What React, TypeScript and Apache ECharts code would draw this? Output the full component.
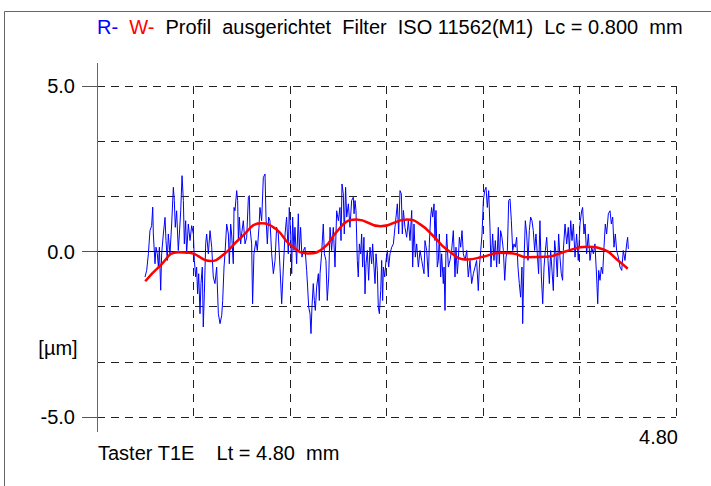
import React, { useEffect, useRef } from "react";
import * as echarts from "echarts";

// R-profile (roughness): positions in mm and heights in µm
const roughX: number[] = [
  0.398, 0.412, 0.426, 0.439, 0.453, 0.462, 0.467, 0.481, 0.489, 0.5, 0.509, 0.517, 0.528, 0.536, 0.55, 0.564, 0.572, 0.583, 0.591, 0.605,
  0.619, 0.633, 0.641, 0.649, 0.66, 0.674, 0.683, 0.694, 0.705, 0.716, 0.724, 0.735, 0.743, 0.757, 0.771, 0.785, 0.799, 0.807, 0.818, 0.826,
  0.834, 0.843, 0.854, 0.862, 0.873, 0.881, 0.89, 0.901, 0.909, 0.923, 0.937,
  0.951, 0.964, 0.978, 0.992, 1.006, 1.02, 1.034, 1.042, 1.053, 1.061, 1.075, 1.089, 1.097, 1.108, 1.116, 1.13, 1.136, 1.144, 1.158, 1.166,
  1.172, 1.18, 1.191, 1.199, 1.213, 1.227, 1.241, 1.255, 1.263, 1.268, 1.282, 1.29, 1.301, 1.318, 1.329, 1.343, 1.351, 1.365, 1.379, 1.393,
  1.401, 1.412, 1.423, 1.434, 1.448, 1.462, 1.476, 1.489, 1.503, 1.517,
  1.531, 1.545, 1.559, 1.572, 1.586, 1.594, 1.606, 1.614, 1.622, 1.633, 1.641, 1.655, 1.669, 1.677, 1.688, 1.699, 1.711, 1.724, 1.738, 1.746,
  1.755, 1.766, 1.774, 1.782, 1.793, 1.802, 1.81, 1.821, 1.835, 1.843, 1.849, 1.862, 1.876, 1.885, 1.898, 1.909, 1.921, 1.932, 1.945, 1.959,
  1.973, 1.987, 2.001, 2.014, 2.023, 2.031, 2.042, 2.05, 2.061, 2.07, 2.084, 2.097,
  2.111, 2.125, 2.131, 2.139, 2.147, 2.158, 2.166, 2.175, 2.186, 2.194, 2.202, 2.213, 2.222, 2.23, 2.241, 2.252, 2.263, 2.277, 2.285, 2.296,
  2.305, 2.313, 2.324, 2.332, 2.341, 2.352, 2.36, 2.368, 2.374, 2.385, 2.396, 2.407, 2.418, 2.429, 2.443, 2.457, 2.47, 2.479, 2.49, 2.501,
  2.512, 2.523, 2.531, 2.54, 2.553, 2.567, 2.581, 2.595, 2.609, 2.617, 2.628, 2.639, 2.65, 2.664, 2.678,
  2.692, 2.711, 2.719, 2.733, 2.747, 2.755, 2.766, 2.774, 2.783, 2.794, 2.802, 2.81, 2.821, 2.83, 2.838, 2.849, 2.857, 2.871, 2.877, 2.885,
  2.893, 2.899, 2.913, 2.926, 2.94, 2.954, 2.968, 2.976, 2.987, 2.995, 3.004, 3.015, 3.026, 3.037, 3.051, 3.065, 3.078, 3.092, 3.106, 3.12,
  3.134, 3.147, 3.161, 3.17, 3.181, 3.192, 3.203, 3.214, 3.225, 3.236, 3.247, 3.258,
  3.266, 3.28, 3.291, 3.302, 3.313, 3.327, 3.335, 3.346, 3.357, 3.369, 3.38, 3.391, 3.402, 3.413, 3.424, 3.435, 3.446, 3.457, 3.468, 3.479,
  3.49, 3.501, 3.512, 3.523, 3.529, 3.54, 3.551, 3.562, 3.573, 3.584, 3.595, 3.606, 3.617, 3.628, 3.639, 3.65, 3.661, 3.672, 3.684, 3.695,
  3.706, 3.717, 3.728, 3.739, 3.75, 3.761, 3.772, 3.783, 3.794, 3.805, 3.816, 3.827, 3.838,
  3.849, 3.86, 3.866, 3.88, 3.894, 3.907, 3.916, 3.927, 3.938, 3.949, 3.963, 3.976, 3.99, 4.004, 4.018, 4.026, 4.037, 4.046, 4.059, 4.073,
  4.087, 4.101, 4.115, 4.128, 4.142, 4.151, 4.159, 4.17, 4.181, 4.192, 4.203, 4.214, 4.225, 4.239, 4.253, 4.264, 4.275, 4.286, 4.297, 4.308,
  4.322, 4.336, 4.35, 4.363, 4.377, 4.391, 4.399, 4.405,
];
const roughY: number[] = [
  -0.77, -0.57, -0.07, 0.63, 0.78, 1.34, 0.53, -0.37, 0.13, -0.07, -0.47, 0.13, -1.17, -0.07, 0.53, 1.03, 0.33, -0.27, 0.53, -0.07,
  0.83, 1.94, 1.54, 0.73, 1.23, 0.03, 0.53, 1.23, 2.29, 1.54, 0.23, 0.93, -0.07, 0.83, 0.33, 0.78, 0.53, -0.27, -0.77, -0.47,
  -1.28, -0.67, -1.88, -0.97, -0.47, -2.28, -1.28, 0.23, 0.53, -0.07, 0.63,
  0.13, -0.77, -0.97, -0.47, -1.88, -2.18, -1.93, -1.48, -0.47, -0.07, 0.83, 0.53, -0.37, 0.83, 0.53, -0.37, 1.33, 1.23, 1.84, 1.54,
  0.33, 1.04, 0.23, 0.53, 0.93, 0.23, 0.43, 1.64, 1.69, 0.73, 0.23, -1.58, -0.07, 0.33, 0.03, 0.73, 1.33, 0.93, 2.24, 2.34,
  1.04, 0.23, 1.04, 0.93, -0.07, -0.67, -0.27, 0.73, 0.53, -0.47,
  -1.58, -0.47, 0.53, 1.04, -0.07, 1.33, 0.53, -0.67, 1.04, 0.03, 0.73, -0.37, 1.14, 0.03, 0.73, -0.17, 0.03, 0.13, -0.57, -1.07,
  -1.68, -1.88, -2.48, -1.68, -0.97, -1.48, -1.78, -1.07, -0.67, -1.48, -0.67, -0.07, 0.83, -0.07, -0.27, -1.48, -0.77, 0.73, 0.03, 0.73,
  -0.47, 1.23, 0.93, 1.33, 0.33, 2.04, 1.74, 0.53, 1.94, 1.04, 1.44, 0.73,
  1.54, 1.64, 1.14, 1.54, 1.24, -0.27, -0.77, 0.23, -0.07, 0.53, -0.47, 0.43, -1.28, -0.37, 0.03, -0.87, 0.13, -0.37, 0.23, -0.47,
  -0.97, -0.07, -0.57, -1.68, -1.88, -1.18, -0.27, -1.48, -0.47, -0.77, -0.27, 0.03, -0.47, -0.07, 0.13, 0.23, 0.73, 1.04, 1.44, 0.53,
  1.84, 1.74, 0.53, 1.24, 0.73, 0.43, 0.93, 0.33, 1.24, -0.47, 0.83, -0.17, 0.23, -0.47, 0.03,
  -0.27, -0.67, 0.33, 0.03, -0.77, 0.23, 1.04, 1.33, 1.04, 1.44, 0.33, 1.24, -0.47, -0.27, 0.53, -0.77, -0.07, -0.97, -0.47, -1.78,
  0.03, 0.53, -0.47, -0.27, 0.03, 0.63, -0.77, 0.13, -0.67, -0.27, 0.43, 0.13, 0.63, -0.07, -0.27, 0.03, -0.77, -0.27, -0.97, -0.67,
  -0.47, -0.27, -1.18, -0.47, 0.03, 0.53, 1.54, 1.84, 1.94, 1.33, 1.84, 0.73,
  -0.47, 0.53, -0.27, 0.33, -0.47, 0.73, -0.37, 0.63, 0.43, 0.03, -0.87, -0.17, 0.03, 1.54, 1.59, 0.93, 0.03, 0.23, 0.13, 0.43,
  -0.47, -0.97, -1.38, -0.47, -2.18, -0.27, 0.93, 0.53, -0.27, 0.63, 1.04, 0.93, 0.63, 0.03, 0.53, -0.07, -0.67, 0.93, -0.77, -1.58,
  -0.47, 0.03, 0.43, -0.27, -0.97, 0.03, -0.57, -1.18, 0.33, -0.07, -0.77, 0.53, -0.17,
  -0.67, -0.87, 0.03, 0.83, 0.23, 0.73, 0.03, 0.93, 0.33, 0.83, -0.17, 0.53, -0.27, 0.83, 1.23, 1.33, 0.53, 0.83, -0.07, 0.53,
  -0.27, 0.13, -0.07, 0.23, -0.77, -1.58, -0.57, -0.87, -0.47, -0.67, 0.13, 0.83, 0.53, 1.14, 1.23, 0.83, 1.04, 0.13, 0.53, 0.03,
  -0.17, -0.47, -0.57, 0.03, -0.27, 0.23, 0.43, 0.08,
];

// W-profile (waviness)
const wavinessX: number[] = [
  0.4, 0.52, 0.67, 0.77, 0.94, 1.05, 1.19, 1.36, 1.49, 1.6, 1.75, 1.88, 1.99, 2.1, 2.15, 2.35,
  2.57, 2.68, 2.79, 2.9, 3.07, 3.2, 3.34, 3.45, 3.56, 3.73, 3.89, 4.06, 4.2, 4.31, 4.4,
];
const wavinessY: number[] = [
  -0.9, -0.44, -0.02, -0.04, -0.29, -0.09, 0.41, 0.85, 0.66, 0.21, -0.06, 0.11, 0.61, 0.95, 0.97, 0.76,
  0.97, 0.82, 0.46, 0.06, -0.24, -0.16, -0.04, -0.06, -0.17, -0.16, 0.01, 0.14, 0.06, -0.24, -0.52,
];

const X_MIN = 0;
const X_MAX = 4.8;
const X_INTERVAL = 0.8;
const Y_MIN = -5;
const Y_MAX = 5;
const Y_INTERVAL = 5;

const TITLE = "{b|R-}  {r|W-}  Profil  ausgerichtet  Filter  ISO 11562(M1)  Lc = 0.800  mm";
const UNIT_LABEL = "[µm]";
const FOOTER = "Taster T1E    Lt = 4.80  mm";
const X_END_LABEL = "4.80";

const FONT = "'Liberation Sans', Arial, sans-serif";
const FS = 20;

export default function App() {
  const ref = useRef<HTMLDivElement>(null);

  useEffect(() => {
    if (!ref.current) return;
    const chart = echarts.init(ref.current, undefined, { renderer: "svg" });
    const dashed = { color: "#222", type: [8, 6] as any, width: 1 };
    chart.setOption({
      animation: false,
      backgroundColor: "#fff",
      textStyle: { fontFamily: FONT },
      grid: { left: 97, right: 35, top: 86, bottom: 69 },
      xAxis: {
        type: "value",
        min: X_MIN,
        max: X_MAX,
        interval: X_INTERVAL,
        axisLine: { show: true, onZero: true, lineStyle: { color: "#000", width: 1 } },
        axisTick: { show: false },
        axisLabel: { show: false },
        splitLine: { show: true, lineStyle: dashed },
      },
      yAxis: {
        type: "value",
        min: Y_MIN,
        max: Y_MAX,
        interval: Y_INTERVAL,
        axisLine: { show: false },
        axisTick: { show: true, length: 15, lineStyle: { color: "#555" } },
        axisLabel: {
          show: true,
          margin: 22,
          color: "#000",
          fontSize: FS,
          fontFamily: FONT,
          formatter: (v: number) => v.toFixed(1),
        },
        splitLine: { show: true, lineStyle: dashed },
        minorTick: { show: false, splitNumber: 3 },
        minorSplitLine: { show: true, lineStyle: dashed },
      },
      series: [
        {
          type: "line",
          name: "R",
          data: roughX.map((x, i) => [x, roughY[i]]),
          showSymbol: false,
          symbol: "none",
          lineStyle: { color: "#0000ff", width: 1 },
          z: 3,
        },
        {
          type: "line",
          name: "W",
          data: wavinessX.map((x, i) => [x, wavinessY[i]]),
          smooth: true,
          showSymbol: false,
          symbol: "none",
          lineStyle: { color: "#ff0000", width: 2.5 },
          z: 4,
        },
      ],
      graphic: [
        {
          type: "rect",
          silent: true,
          shape: { x: 4.5, y: 11.5, width: 760, height: 520 },
          style: { fill: "none", stroke: "#666", lineWidth: 1 },
        },
        {
          type: "line",
          silent: true,
          shape: { x1: 97.5, y1: 63, x2: 97.5, y2: 432 },
          style: { stroke: "#666", lineWidth: 1 },
          z: 10,
        },
        {
          type: "text",
          x: 97,
          y: 27,
          style: {
            text: TITLE,
            fontFamily: FONT,
            fontSize: FS,
            fill: "#000",
            verticalAlign: "middle",
            rich: {
              b: { fill: "#0000ff", fontSize: FS, fontFamily: FONT },
              r: { fill: "#ff0000", fontSize: FS, fontFamily: FONT },
            },
          },
        },
        {
          type: "text",
          x: 58,
          y: 348,
          style: { text: UNIT_LABEL, fontFamily: FONT, fontSize: FS, fill: "#000", align: "center", verticalAlign: "middle" },
        },
        {
          type: "text",
          x: 98,
          y: 453,
          style: { text: FOOTER, fontFamily: FONT, fontSize: FS, fill: "#000", verticalAlign: "middle" },
        },
        {
          type: "text",
          x: 678,
          y: 437,
          style: { text: X_END_LABEL, fontFamily: FONT, fontSize: FS, fill: "#000", align: "right", verticalAlign: "middle" },
        },
      ],
    });
    return () => chart.dispose();
  }, []);

  return (
    <div
      ref={ref}
      style={{ position: "fixed", left: 0, top: 0, width: 711, height: 486, background: "#fff" }}
    />
  );
}
